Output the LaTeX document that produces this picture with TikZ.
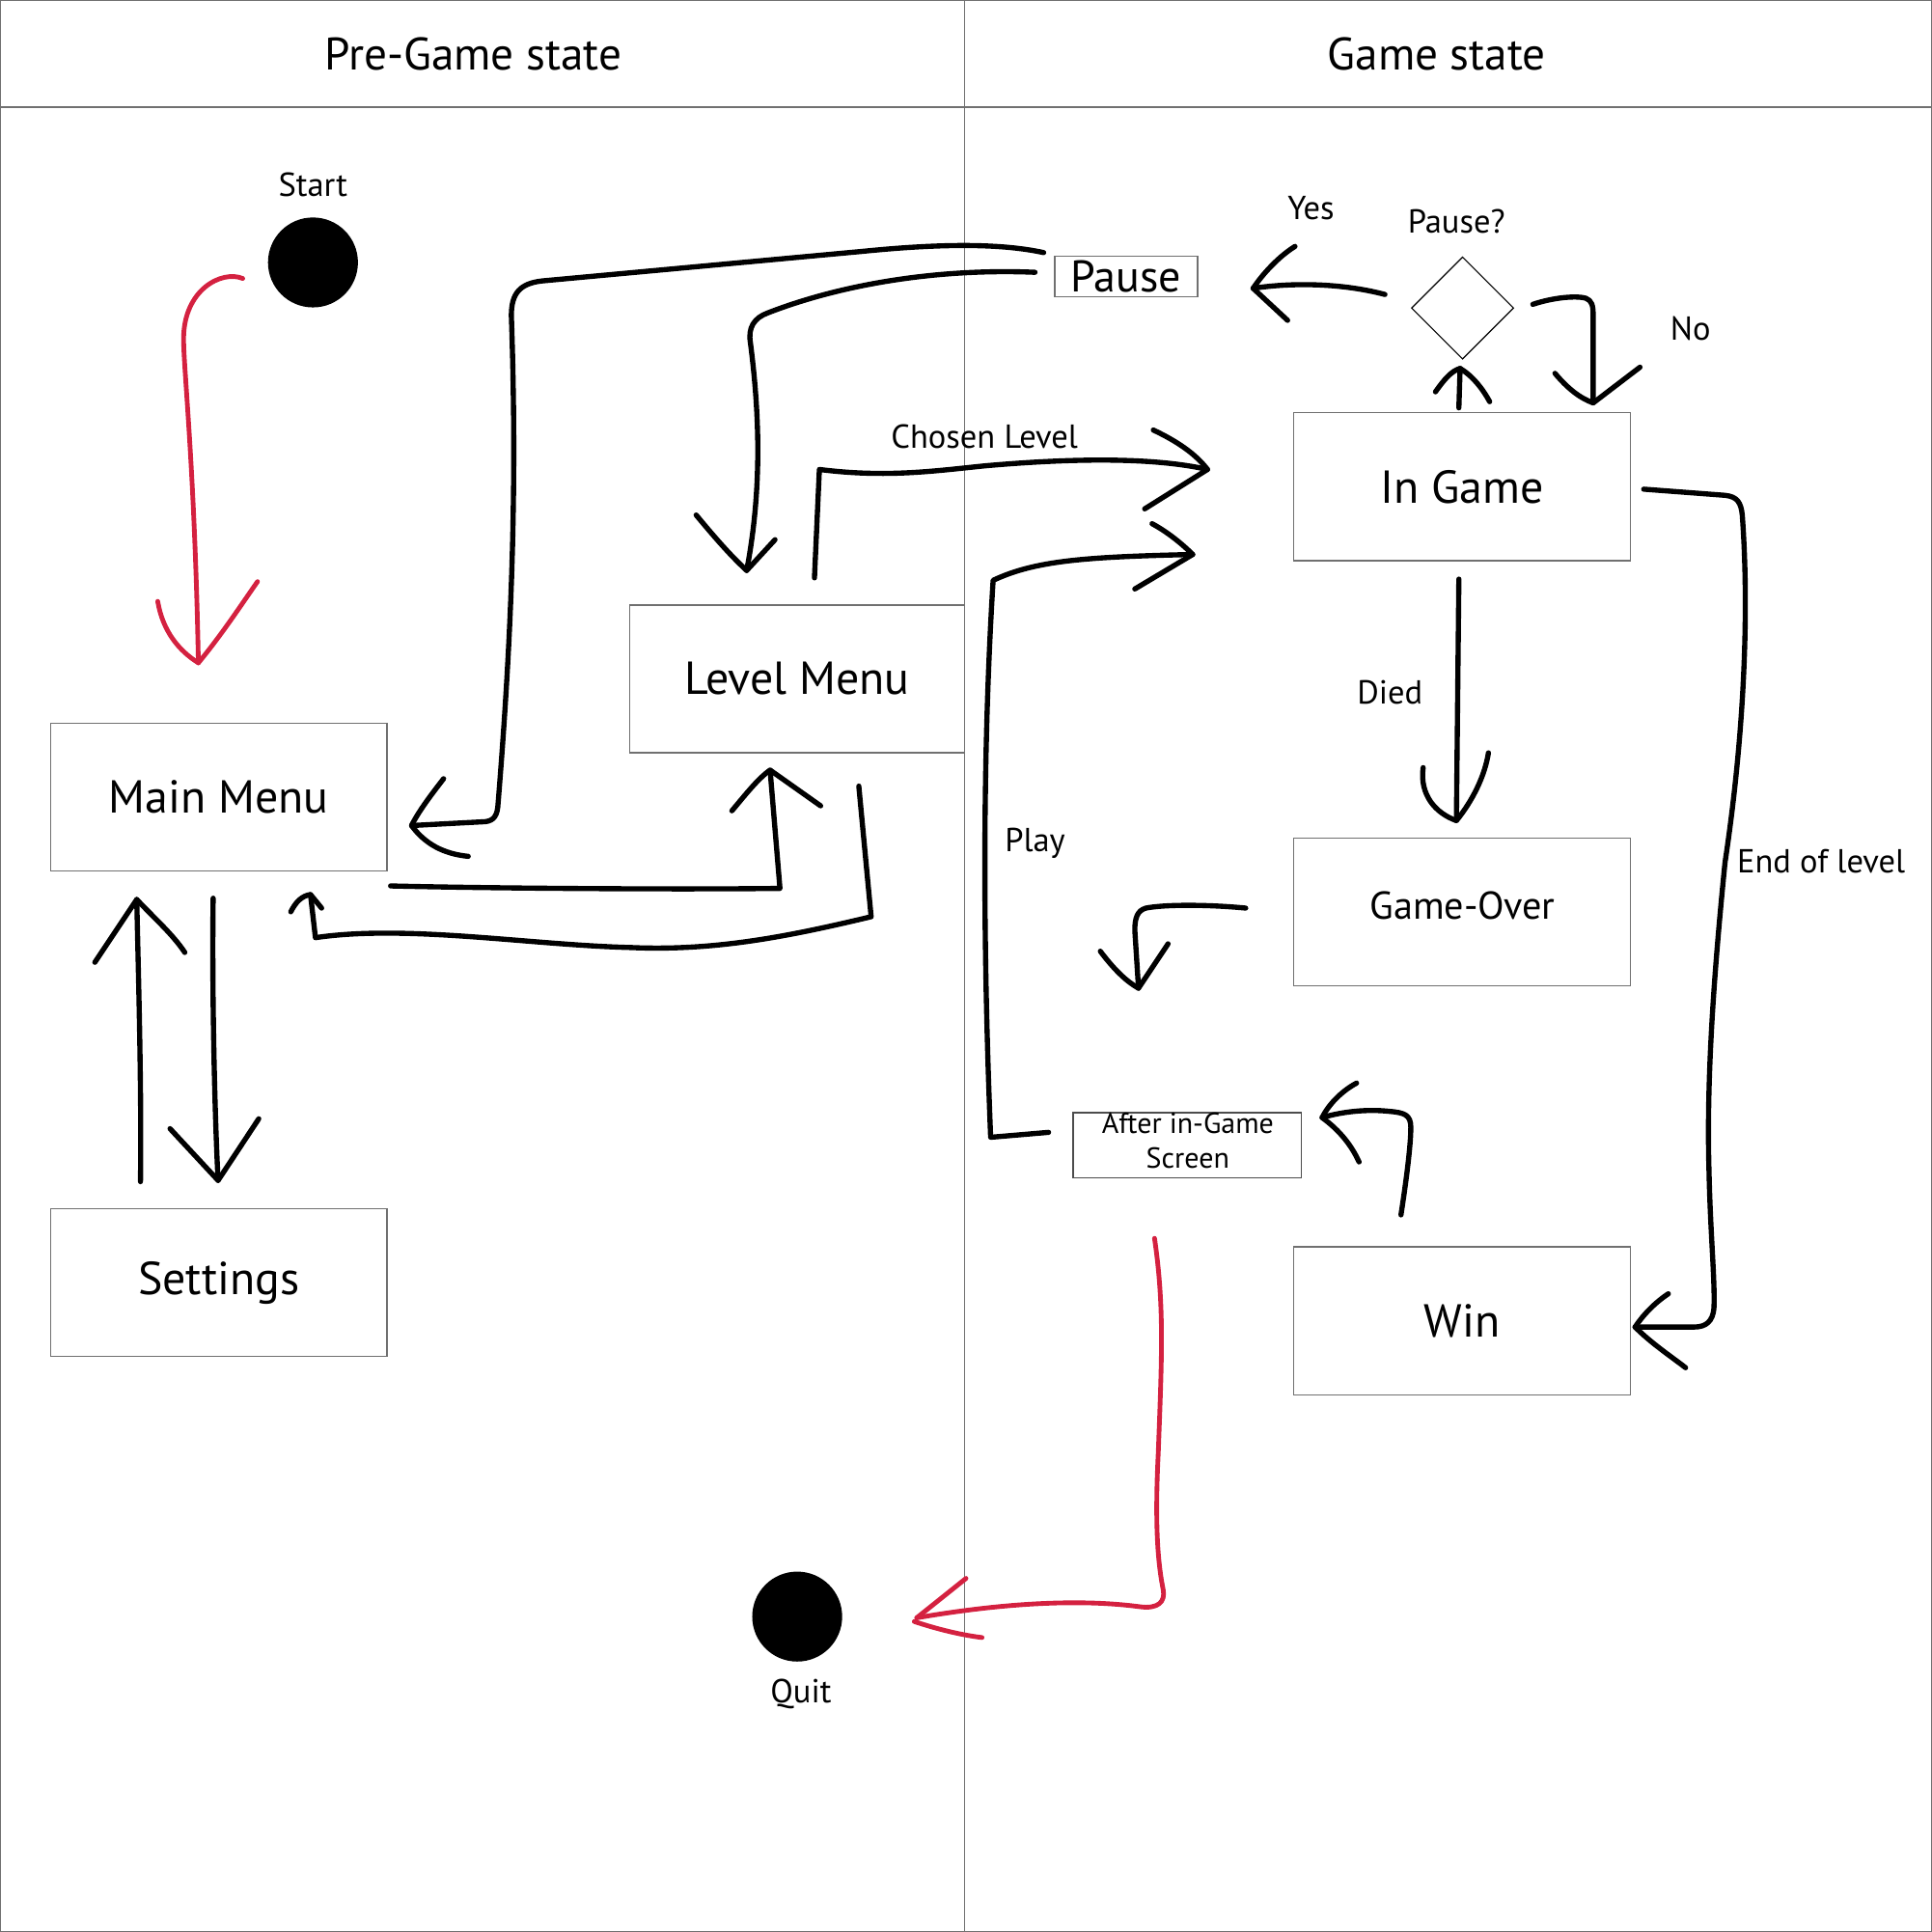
\documentclass[tikz,border=0pt]{standalone}
\usepackage{fontspec}
\setmainfont{PT Sans}
\usetikzlibrary{shapes.geometric}
\definecolor{framegray}{HTML}{707070}
\definecolor{redline}{HTML}{D42140}
\tikzset{
  frameline/.style={draw=framegray, line width=1.1pt},
  box/.style={draw=framegray, line width=1pt, minimum width=273pt, minimum height=120pt, inner sep=0pt, font=\fontsize{37.5}{42}\selectfont},
  conn/.style={draw=black, line width=4.2pt, line cap=round, line join=round},
  redc/.style={draw=redline, line width=3.8pt, line cap=round, line join=round},
  lbl/.style={font=\fontsize{27}{30}\selectfont, inner sep=0pt},
  head/.style={font=\fontsize{37}{42}\selectfont, inner sep=0pt},
  dot/.style={circle, fill=black, minimum size=73pt, inner sep=0pt},
}
\begin{document}
\begin{tikzpicture}[x=1pt, y=-1pt]
\useasboundingbox (0,0) rectangle (1568,1568);
% frame
\draw[frameline] (0,0) rectangle (1568,1568);
\draw[frameline] (0,87) -- (1568,87);
\draw[frameline] (783,0) -- (783,1568);
\node[head] (hpre) at (384,44) {Pre-Game state};
\node[head] (hgame) at (1166,44) {Game state};

% nodes
\node[dot] (start) at (254,213) {};
\node[lbl] (startl) at (254,150) {Start};
\node[dot] (quit) at (647,1312) {};
\node[lbl] (quitl) at (650,1375) {Quit};

\node[box] (mainmenu) at (177.5,647) {Main Menu};
\node[box] (settings) at (177.5,1041) {\raisebox{3pt}{Settings}};
\node[box, minimum width=272pt] (levelmenu) at (647,551) {Level Menu};
\node[box] (ingame) at (1186.5,395) {In Game};
\node[box, font=\fontsize{31.5}{35}\selectfont] (gameover) at (1186.5,740) {};
\node[font=\fontsize{31.5}{35}\selectfont, inner sep=0pt] (gameoverl) at (1187,735) {Game-Over};
\node[box] (win) at (1186.5,1072) {Win};
\node[box, minimum width=116pt, minimum height=33pt, font=\fontsize{36}{36}\selectfont] (pause) at (914,224.5) {Pause};
\node[box, draw=black!70, minimum width=185pt, minimum height=53pt] (after) at (963.5,929.5) {};
\node[align=center, font=\fontsize{23.5}{28}\selectfont, inner sep=0pt] (afterl) at (964,926) {After in-Game\\Screen};
\node[diamond, draw=black, line width=0.9pt, minimum width=83pt, minimum height=83pt, inner sep=0pt] (decide) at (1187,250) {};

\node[lbl] (chosen) at (799,354) {Chosen Level};
\node[lbl] (yes) at (1064,169) {Yes};
\node[lbl] (pauseq) at (1182,180) {Pause?};
\node[lbl] (no) at (1372,267) {No};
\node[lbl] (died) at (1128,562) {Died};
\node[lbl] (play) at (840,684) {Play};
\node[lbl] (endl) at (1478,699) {End of level};

% endpoints
\coordinate (s0) at (197,226); \coordinate (st) at (161,538);
\coordinate (q0) at (937,1005); \coordinate (qt) at (744,1313);
\coordinate (u0) at (114,959); \coordinate (ut) at (111,730);
\coordinate (d0) at (173,729); \coordinate (dt) at (177,958);
\coordinate (a0) at (697,638); \coordinate (at) at (252,726);
\coordinate (b0) at (317,719); \coordinate (bt) at (625,625);
\coordinate (c0) at (847,205); \coordinate (ct) at (334,670);
\coordinate (e0) at (840,221); \coordinate (et) at (606,463);
\coordinate (f0) at (661,469); \coordinate (ft) at (980,381);
\coordinate (g0) at (851,919); \coordinate (gt) at (968,450);
\coordinate (h0) at (1184,331); \coordinate (ht) at (1185,299);
\coordinate (i0) at (1124,239); \coordinate (it) at (1017,234);
\coordinate (j0) at (1244,247); \coordinate (jt) at (1293,327);
\coordinate (k0) at (1184,470); \coordinate (kt) at (1182,666);
\coordinate (l0) at (1011,737); \coordinate (lt) at (924,802);
\coordinate (m0) at (1137,986); \coordinate (mt) at (1073,907);
\coordinate (n0) at (1334,397); \coordinate (nt) at (1327,1077);

% red: start -> main menu
\draw[redc] (s0) .. controls (180,219) and (149,235) .. (149,275) .. controls (149,300) and (158,380) .. (st);
\draw[redc] (128,488) .. controls (132,512) and (145,528) .. (st) .. controls (180,515) and (195,492) .. (209,472);
% red: after -> quit
\draw[redc] (q0) .. controls (945,1060) and (943,1100) .. (940,1180) .. controls (937,1240) and (940,1270) .. (944,1290) .. controls (946,1300) and (940,1306) .. (925,1304) .. controls (880,1298) and (820,1300) .. (qt);
\draw[redc] (784,1281) -- (qt);
\draw[redc] (742,1316) .. controls (760,1322) and (780,1327) .. (797,1329);

% settings <-> main menu
\draw[conn] (u0) .. controls (115,880) and (112,780) .. (ut);
\draw[conn] (77,781) -- (ut) .. controls (125,745) and (140,758) .. (150,773);
\draw[conn] (d0) .. controls (172,800) and (174,900) .. (dt);
\draw[conn] (138,916) -- (dt) -- (210,908);

% level menu -> main menu
\draw[conn] (a0) -- (707,744) .. controls (640,760) and (580,772) .. (512,769) .. controls (430,767) and (330,750) .. (256,761) -- (at);
\draw[conn] (236,740) .. controls (240,732) and (245,727) .. (at) -- (261,737);

% main menu -> level menu
\draw[conn] (b0) .. controls (400,721) and (550,722) .. (633,721) -- (bt);
\draw[conn] (594,658) .. controls (605,645) and (615,632) .. (bt) -- (666,654);

% pause -> main menu
\draw[conn] (c0) .. controls (810,197) and (760,198) .. (700,204) -- (440,228) .. controls (422,230) and (415,238) .. (415,256) .. controls (420,400) and (415,520) .. (404,655) .. controls (403,664) and (399,667) .. (391,667) -- (ct);
\draw[conn] (360,632) .. controls (350,645) and (340,658) .. (ct) .. controls (345,685) and (360,693) .. (380,695);

% pause -> level menu
\draw[conn] (e0) .. controls (770,218) and (690,228) .. (623,254) .. controls (612,258) and (607,266) .. (609,278) .. controls (617,340) and (618,400) .. (et);
\draw[conn] (565,418) .. controls (580,436) and (592,450) .. (et) -- (629,438);

% level menu -> in game (chosen level)
\draw[conn] (f0) -- (665,381) .. controls (720,388) and (760,382) .. (800,378) .. controls (880,371) and (940,372) .. (ft);
\draw[conn] (936,349) .. controls (955,358) and (970,368) .. (ft) -- (929,413);

% after -> in game (play)
\draw[conn] (g0) -- (804,923) .. controls (797,750) and (798,600) .. (806,471) .. controls (840,455) and (880,452) .. (gt);
\draw[conn] (935,425) .. controls (948,432) and (960,442) .. (gt) -- (921,478);

% in game -> decision
\draw[conn] (h0) -- (ht);
\draw[conn] (1165,318) .. controls (1172,308) and (1178,301) .. (ht) .. controls (1195,305) and (1203,315) .. (1209,326);

% decision -> pause (yes)
\draw[conn] (i0) .. controls (1090,230) and (1050,229) .. (it);
\draw[conn] (1051,200) .. controls (1038,208) and (1025,222) .. (it) -- (1045,260);

% decision -> in game (no)
\draw[conn] (j0) .. controls (1262,241) and (1280,240) .. (1287,242) .. controls (1292,244) and (1293,248) .. (1293,256) -- (jt);
\draw[conn] (1262,303) .. controls (1272,315) and (1282,323) .. (jt) -- (1331,298);

% in game -> game over (died)
\draw[conn] (k0) -- (kt);
\draw[conn] (1155,623) .. controls (1152,645) and (1165,660) .. (kt) .. controls (1195,650) and (1205,630) .. (1208,611);

% game over -> after
\draw[conn] (l0) .. controls (980,734) and (945,734) .. (930,737) .. controls (923,739) and (921,745) .. (921,755) -- (lt);
\draw[conn] (893,772) .. controls (905,788) and (915,797) .. (lt) -- (948,766);

% win -> after
\draw[conn] (m0) .. controls (1141,960) and (1145,930) .. (1145,915) .. controls (1145,905) and (1140,903) .. (1128,902) .. controls (1110,900) and (1090,902) .. (mt);
\draw[conn] (1101,879) .. controls (1088,886) and (1078,897) .. (mt) .. controls (1088,918) and (1097,930) .. (1103,943);

% in game -> win (end of level)
\draw[conn] (n0) -- (1400,402) .. controls (1410,403) and (1413,408) .. (1414,418) .. controls (1420,500) and (1415,600) .. (1400,700) .. controls (1390,800) and (1385,880) .. (1387,950) .. controls (1388,1000) and (1392,1040) .. (1391,1062) .. controls (1390,1072) and (1385,1077) .. (1375,1077) -- (nt);
\draw[conn] (1354,1050) .. controls (1342,1058) and (1333,1068) .. (nt) .. controls (1340,1090) and (1355,1100) .. (1368,1110);
\end{tikzpicture}
\end{document}
